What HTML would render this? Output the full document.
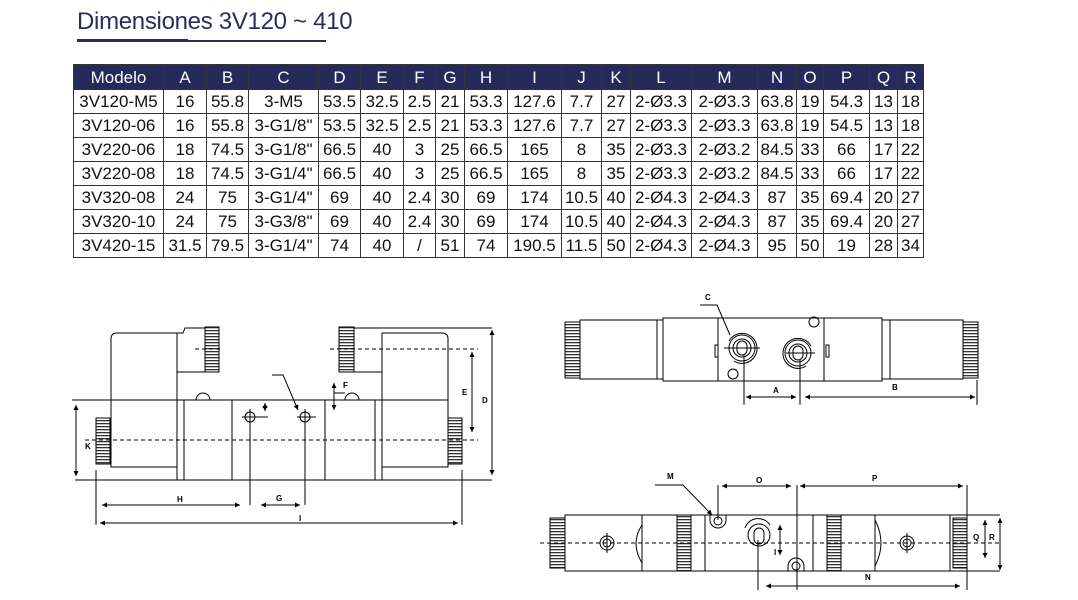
<!DOCTYPE html>
<html><head><meta charset="utf-8"><style>
body{margin:0;width:1078px;height:600px;background:#fff;position:relative;overflow:hidden;font-family:"Liberation Sans",sans-serif}
.t{position:absolute;left:77px;top:8px;font-size:24px;color:#2a2d5e;letter-spacing:-0.3px}
table{position:absolute;left:73px;top:64px;border-collapse:collapse;font-size:17px;color:#111;table-layout:fixed;width:850px}
td,th{border:1.8px solid #333;padding:0;text-align:center;height:23px;line-height:23px;white-space:nowrap;overflow:hidden}
th{background:#262a5a;color:#fff;font-weight:normal;height:24px}
</style></head><body>
<div class="t">Dimensiones 3V120 ~ 410</div>
<div style="position:absolute;left:77px;top:39px;width:111px;height:3px;background:#2a2d5e"></div>
<div style="position:absolute;left:188px;top:40px;width:138px;height:1.5px;background:#2a2d5e"></div>
<table>
<colgroup><col style="width:90px"><col style="width:43px"><col style="width:42px"><col style="width:70px"><col style="width:42px"><col style="width:43px"><col style="width:32px"><col style="width:29px"><col style="width:43px"><col style="width:54px"><col style="width:40px"><col style="width:29px"><col style="width:61px"><col style="width:66px"><col style="width:39px"><col style="width:27px"><col style="width:46px"><col style="width:28px"><col style="width:26px"></colgroup>
<tr><th>Modelo</th><th>A</th><th>B</th><th>C</th><th>D</th><th>E</th><th>F</th><th>G</th><th>H</th><th>I</th><th>J</th><th>K</th><th>L</th><th>M</th><th>N</th><th>O</th><th>P</th><th>Q</th><th>R</th></tr>
<tr><td>3V120-M5</td><td>16</td><td>55.8</td><td>3-M5</td><td>53.5</td><td>32.5</td><td>2.5</td><td>21</td><td>53.3</td><td>127.6</td><td>7.7</td><td>27</td><td>2-Ø3.3</td><td>2-Ø3.3</td><td>63.8</td><td>19</td><td>54.3</td><td>13</td><td>18</td></tr>
<tr><td>3V120-06</td><td>16</td><td>55.8</td><td>3-G1/8"</td><td>53.5</td><td>32.5</td><td>2.5</td><td>21</td><td>53.3</td><td>127.6</td><td>7.7</td><td>27</td><td>2-Ø3.3</td><td>2-Ø3.3</td><td>63.8</td><td>19</td><td>54.5</td><td>13</td><td>18</td></tr>
<tr><td>3V220-06</td><td>18</td><td>74.5</td><td>3-G1/8"</td><td>66.5</td><td>40</td><td>3</td><td>25</td><td>66.5</td><td>165</td><td>8</td><td>35</td><td>2-Ø3.3</td><td>2-Ø3.2</td><td>84.5</td><td>33</td><td>66</td><td>17</td><td>22</td></tr>
<tr><td>3V220-08</td><td>18</td><td>74.5</td><td>3-G1/4"</td><td>66.5</td><td>40</td><td>3</td><td>25</td><td>66.5</td><td>165</td><td>8</td><td>35</td><td>2-Ø3.3</td><td>2-Ø3.2</td><td>84.5</td><td>33</td><td>66</td><td>17</td><td>22</td></tr>
<tr><td>3V320-08</td><td>24</td><td>75</td><td>3-G1/4"</td><td>69</td><td>40</td><td>2.4</td><td>30</td><td>69</td><td>174</td><td>10.5</td><td>40</td><td>2-Ø4.3</td><td>2-Ø4.3</td><td>87</td><td>35</td><td>69.4</td><td>20</td><td>27</td></tr>
<tr><td>3V320-10</td><td>24</td><td>75</td><td>3-G3/8"</td><td>69</td><td>40</td><td>2.4</td><td>30</td><td>69</td><td>174</td><td>10.5</td><td>40</td><td>2-Ø4.3</td><td>2-Ø4.3</td><td>87</td><td>35</td><td>69.4</td><td>20</td><td>27</td></tr>
<tr><td>3V420-15</td><td>31.5</td><td>79.5</td><td>3-G1/4"</td><td>74</td><td>40</td><td>/</td><td>51</td><td>74</td><td>190.5</td><td>11.5</td><td>50</td><td>2-Ø4.3</td><td>2-Ø4.3</td><td>95</td><td>50</td><td>19</td><td>28</td><td>34</td></tr>
</table>
<svg width="1078" height="600" style="position:absolute;left:0;top:0" font-family="Liberation Sans" font-size="8" font-weight="bold">
<defs><marker id="a" markerWidth="6" markerHeight="6" refX="5" refY="3" orient="auto-start-reverse"><path d="M0,0.5 L5,3 L0,5.5z" fill="#000"/></marker>
<pattern id="k" width="4" height="3" patternUnits="userSpaceOnUse"><rect width="4" height="3" fill="#fff"/><rect width="4" height="1.3" fill="#333"/></pattern></defs>
<g stroke="#000" stroke-width="1" fill="none">
<line x1="75" y1="480" x2="492" y2="480"/>
<line x1="72" y1="400" x2="448" y2="400"/>
<path d="M111,400 V339 q0,-6 6,-6 H177 V400"/>
<rect x="111" y="400" width="66" height="67"/>
<path d="M177,372 H205 M177,333 H183 l2,-5 H205"/>
<rect x="205" y="327" width="14" height="45" fill="url(#k)"/>
<rect x="96" y="418" width="14" height="46" fill="url(#k)"/>
<path d="M448,400 V339 q0,-6 -6,-6 H382 V400"/>
<rect x="382" y="400" width="66" height="67"/>
<path d="M382,372 H354 M354,328 H492"/>
<rect x="339" y="327" width="15" height="45" fill="url(#k)"/>
<rect x="448" y="418" width="14" height="46" fill="url(#k)"/>
<path d="M177,400V480M184,400V480M232,400V480M325,400V480M375,400V480M382,400V480"/>
<path d="M196,400 a7,7 0 0 1 14,0 M345,400 a7,7 0 0 1 14,0"/>
<circle cx="250" cy="417" r="5"/><circle cx="305" cy="417" r="5"/>
<path d="M242,417H268M250,409V425M297,417H316M305,409V425"/>
<path stroke-dasharray="4,3" d="M85,440H478M330,349H478M195,349H222"/>
<path d="M76,405V476" marker-start="url(#a)" marker-end="url(#a)"/>
<path d="M492,330V475" marker-start="url(#a)" marker-end="url(#a)"/>
<path d="M472,352V432" marker-start="url(#a)" marker-end="url(#a)"/>
<path d="M334,383V410" marker-start="url(#a)" marker-end="url(#a)"/>
<path d="M265,403V411" marker-start="url(#a)" marker-end="url(#a)"/>
<path d="M334,393H345"/>
<path d="M102,505H240" marker-start="url(#a)" marker-end="url(#a)"/>
<path d="M261,505H300" marker-start="url(#a)" marker-end="url(#a)"/>
<path d="M100,523H458" marker-start="url(#a)" marker-end="url(#a)"/>
<path d="M96,470V525M462,470V525M250,422V505M305,422V505"/>
<path d="M272,375H283L298,410" marker-end="url(#a)"/>
<rect x="565" y="322" width="15" height="56" fill="url(#k)"/>
<rect x="580" y="320" width="77" height="59"/>
<rect x="657" y="320" width="6" height="59"/>
<rect x="663" y="318" width="219" height="63"/>
<path d="M718,318V381M824,318V381"/>
<rect x="882" y="320" width="8" height="59"/>
<rect x="890" y="320" width="73" height="59"/>
<rect x="963" y="322" width="15" height="56" fill="url(#k)"/>
<rect x="715" y="345" width="3" height="12"/><rect x="826" y="345" width="3" height="12"/>
<circle cx="742" cy="348" r="13"/><circle cx="742" cy="348" r="9"/><rect x="737" y="341" width="10" height="14" rx="5"/>
<path d="M729,341 a15,15 0 1 1 5,20"/>
<circle cx="798" cy="353" r="13"/><circle cx="798" cy="353" r="9"/><rect x="793" y="346" width="10" height="14" rx="5"/>
<path d="M811,346 a15,15 0 1 0 -5,20"/>
<path d="M724,348H760M786,353H815"/>
<circle cx="733" cy="374" r="5"/><circle cx="814" cy="322" r="5"/>
<path d="M744,355V405M800,360V405M977,380V405"/>
<path d="M746,397H796" marker-start="url(#a)" marker-end="url(#a)"/>
<path d="M805,397H975" marker-start="url(#a)" marker-end="url(#a)"/>
<path d="M700,305H717L730,335"/>
<path d="M565,515H1000M565,571H1000"/>
<rect x="550" y="518" width="15" height="50" fill="url(#k)"/>
<rect x="565" y="515" width="77" height="56"/>
<path d="M642,525 q-12,18 0,38"/>
<rect x="642" y="515" width="35" height="56"/>
<rect x="677" y="515" width="14" height="56" fill="url(#k)"/>
<path d="M705,515V571M813,515V571"/>
<rect x="827" y="515" width="14" height="56" fill="url(#k)"/>
<rect x="841" y="515" width="34" height="56"/>
<path d="M875,520 q12,23 0,46"/>
<rect x="875" y="515" width="75" height="56"/>
<rect x="953" y="518" width="14" height="50" fill="url(#k)"/>
<path stroke-dasharray="4,3" d="M540,543H1000"/>
<circle cx="607" cy="543" r="7"/><circle cx="607" cy="543" r="4"/><path d="M607,533V553"/>
<circle cx="907" cy="543" r="7"/><circle cx="907" cy="543" r="4"/><path d="M907,533V553"/>
<circle cx="759" cy="535" r="11"/><rect x="754" y="528" width="10" height="16" rx="5"/>
<path d="M745,528 a14,14 0 0 1 25,-3"/>
<path d="M710,515 v5 a8,8 0 0 0 16,0 v-5"/><circle cx="718" cy="521" r="4"/>
<path d="M788,571 v-5 a8,8 0 0 1 16,0 v5"/><circle cx="796" cy="566" r="4"/>
<path d="M718,485V520M797,485V590M967,485V590M758,540V590"/>
<path d="M722,486H791" marker-start="url(#a)" marker-end="url(#a)"/>
<path d="M800,486H963" marker-start="url(#a)" marker-end="url(#a)"/>
<path d="M766,586H960" marker-start="url(#a)" marker-end="url(#a)"/>
<path d="M985,520V558" marker-start="url(#a)" marker-end="url(#a)"/>
<path d="M1000,518V570" marker-start="url(#a)" marker-end="url(#a)"/>
<path d="M780,525V555" marker-start="url(#a)" marker-end="url(#a)"/>
<path d="M655,485H683L712,515" marker-end="url(#a)"/>
</g>
<g fill="#000">
<text x="85" y="449">K</text><text x="482" y="403">D</text><text x="462" y="395">E</text><text x="343" y="388">F</text>
<text x="177" y="502">H</text><text x="276" y="501">G</text><text x="299" y="521">I</text>
<text x="705" y="300">C</text><text x="773" y="393">A</text><text x="892" y="390">B</text>
<text x="667" y="479">M</text><text x="756" y="483">O</text><text x="872" y="481">P</text>
<text x="865" y="580">N</text><text x="973" y="540">Q</text><text x="989" y="540">R</text><text x="774" y="555">I</text>
</g>
</svg>
</body></html>
